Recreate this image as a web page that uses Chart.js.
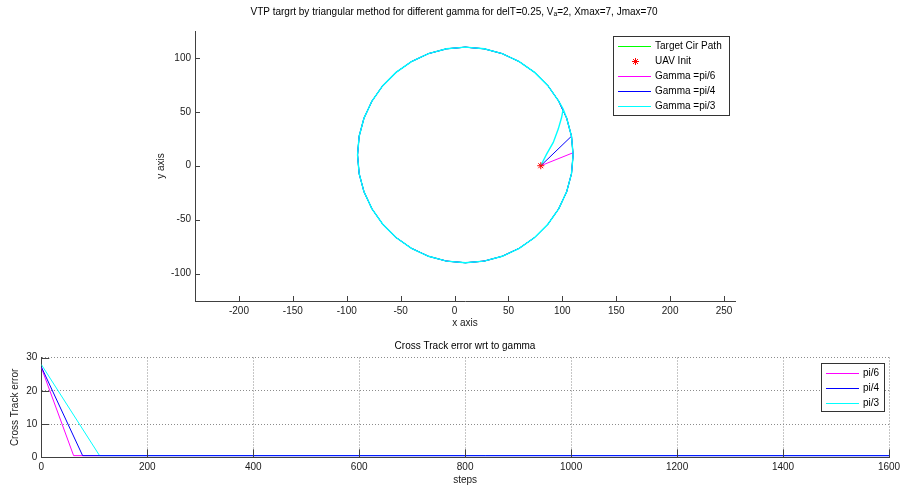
<!DOCTYPE html>
<html>
<head>
<meta charset="utf-8">
<script src="https://cdn.jsdelivr.net/npm/chart.js@4.4.1/dist/chart.umd.min.js"></script>
<style>
  html, body { margin: 0; padding: 0; background: #fff; overflow: hidden; width: 904px; height: 492px; }
  #top { position: absolute; left: 0; top: 0; }
  #bottom { position: absolute; left: 0; top: 335px; }
</style>
</head>
<body>
<canvas id="top" width="908" height="335"></canvas>
<canvas id="bottom" width="930" height="157"></canvas>
<script>
// target circle (centre about (10,10), radius about 100)
const circleX = [110, 108.5, 104.0, 96.6, 86.6, 74.3, 60, 44.2, 27.4, 10, -7.4, -24.2, -40, -54.3, -66.6, -76.6, -84.0, -88.5,
                 -90, -88.5, -84.0, -76.6, -66.6, -54.3, -40, -24.2, -7.4, 10, 27.4, 44.2, 60, 74.3, 86.6, 96.6, 104.0, 108.5, 110];
const circleY = [10, 27.4, 44.2, 60, 74.3, 86.6, 96.6, 104.0, 108.5, 110, 108.5, 104.0, 96.6, 86.6, 74.3, 60, 44.2, 27.4,
                 10, -7.4, -24.2, -40, -54.3, -66.6, -76.6, -84.0, -88.5, -90, -88.5, -84.0, -76.6, -66.6, -54.3, -40, -24.2, -7.4, 10];

const uavX = [80];
const uavY = [0];

// approach legs from UAV init to the circle
const pi6X = [80, 109.9];
const pi6Y = [0, 12];
const pi4X = [80, 108.5];
const pi4Y = [0, 27.4];
const pi3X = [80, 85.4, 91.6, 96.2, 99.3, 100.8];
const pi3Y = [0, 10.8, 21.6, 34, 44.7, 52.5];
// first circle point reached after each approach leg
const joinPi6 = 1, joinPi4 = 2, joinPi3 = 3;

const xTicksTop = [-200, -150, -100, -50, 0, 50, 100, 150, 200, 250];
const yTicksTop = [-100, -50, 0, 50, 100];

// cross track error vs steps
const stepsPi6 = [0, 61, 1600];
const errPi6 = [27.0, 0.5, 0.5];
const stepsPi4 = [0, 78, 1600];
const errPi4 = [27.2, 0.5, 0.5];
const stepsPi3 = [0, 110, 1600];
const errPi3 = [27.9, 0.5, 0.5];

const xTicksBottom = [0, 200, 400, 600, 800, 1000, 1200, 1400, 1600];
const yTicksBottom = [0, 10, 20, 30];

const axisColor = '#404040';
const textColor = '#1a1a1a';
Chart.defaults.font.family = '"Liberation Sans", Arial, "DejaVu Sans", sans-serif';
Chart.defaults.font.size = 10;
Chart.defaults.color = textColor;

function pts(xs, ys) {
  return xs.map((x, i) => ({x: x, y: ys[i]}));
}

// approach leg, then one lap of the circle back to the join point
function withLap(xs, ys, k) {
  const p = pts(xs, ys);
  const n = circleX.length - 1;
  for (let j = 0; j < n; j++) {
    const i = (k + j - 1) % n + 1;
    p.push({x: circleX[i], y: circleY[i]});
  }
  p.push({x: xs[xs.length - 1], y: ys[ys.length - 1]});
  return p;
}

function fixedTicks(arr) {
  return s => { s.ticks = arr.map(v => ({value: v})); };
}

// MATLAB style tick marks pointing into the plot
const inTicks = {
  id: 'inTicks',
  afterDatasetsDraw(chart, args, opts) {
    const {ctx, chartArea: a, scales} = chart;
    ctx.save();
    ctx.strokeStyle = axisColor;
    ctx.lineWidth = 1;
    ctx.beginPath();
    scales.x.ticks.forEach(t => {
      const px = Math.round(scales.x.getPixelForValue(t.value)) + 0.5;
      ctx.moveTo(px, a.bottom);
      ctx.lineTo(px, a.bottom - opts.length);
    });
    scales.y.ticks.forEach(t => {
      const py = Math.round(scales.y.getPixelForValue(t.value)) + 0.5;
      ctx.moveTo(a.left, py);
      ctx.lineTo(a.left + opts.length, py);
    });
    ctx.stroke();
    ctx.restore();
  }
};

function drawStar(ctx, x, y, r) {
  ctx.beginPath();
  ctx.moveTo(x - r, y); ctx.lineTo(x + r, y);
  ctx.moveTo(x, y - r); ctx.lineTo(x, y + r);
  const d = r * 0.7071;
  ctx.moveTo(x - d, y - d); ctx.lineTo(x + d, y + d);
  ctx.moveTo(x - d, y + d); ctx.lineTo(x + d, y - d);
  ctx.stroke();
}

// boxed legend inside the top right corner of the plot
const boxLegend = {
  id: 'boxLegend',
  afterDraw(chart, args, opts) {
    const {ctx, chartArea} = chart;
    const items = chart.data.datasets.filter(d => d.label);
    const h = items.length * opts.rowHeight + 4;
    const left = Math.round(chartArea.right - opts.right - opts.width);
    const top = Math.round(chartArea.top + opts.top);
    ctx.save();
    ctx.fillStyle = '#fff';
    ctx.fillRect(left, top, opts.width, h);
    ctx.strokeStyle = '#333';
    ctx.lineWidth = 1;
    ctx.strokeRect(left + 0.5, top + 0.5, opts.width - 1, h - 1);
    ctx.font = '10px "Liberation Sans", Arial, sans-serif';
    ctx.textBaseline = 'middle';
    items.forEach((d, i) => {
      const y = Math.round(top + 2 + opts.rowHeight / 2 + i * opts.rowHeight) + 0.5;
      ctx.strokeStyle = d.borderColor;
      ctx.lineWidth = 1;
      if (d.showLine === false) {
        drawStar(ctx, left + 22.5, y, 3.5);
      } else {
        ctx.beginPath();
        ctx.moveTo(left + 5, y);
        ctx.lineTo(left + 38, y);
        ctx.stroke();
      }
      ctx.fillStyle = '#000';
      ctx.fillText(d.label, left + 42, y);
    });
    ctx.restore();
  }
};

function lineSet(label, color, data, order, width) {
  return {label: label, data: data, borderColor: color, backgroundColor: color, showLine: true,
          borderWidth: width || 1, pointRadius: 0, tension: 0, order: order};
}

new Chart(document.getElementById('top'), {
  type: 'scatter',
  data: {
    datasets: [
      lineSet('Target Cir Path', '#00ff00', pts(circleX, circleY), 4),
      {label: 'UAV Init', data: pts(uavX, uavY), showLine: false, pointStyle: 'star', pointRadius: 3.5,
       borderColor: '#ff0000', backgroundColor: '#ff0000', borderWidth: 1, order: 0},
      lineSet('Gamma =pi/6', '#ff00ff', withLap(pi6X, pi6Y, joinPi6), 3),
      lineSet('Gamma =pi/4', '#0000ff', withLap(pi4X, pi4Y, joinPi4), 2),
      lineSet('Gamma =pi/3', '#00ffff', withLap(pi3X, pi3Y, joinPi3), 1, 1.4)
    ]
  },
  options: {
    responsive: false,
    animation: false,
    events: [],
    layout: {padding: 0},
    plugins: {
      legend: {display: false},
      tooltip: {enabled: false},
      title: {
        display: true,
        text: 'VTP targrt by triangular method for different gamma for delT=0.25, V\u2090=2, Xmax=7, Jmax=70',
        color: '#000',
        font: {size: 10, weight: 'normal'},
        padding: {top: 6.5, bottom: 12.5}
      },
      inTicks: {length: 5},
      boxLegend: {right: 5, top: 5, width: 117, rowHeight: 15.2}
    },
    scales: {
      x: {
        type: 'linear', position: 'bottom', min: -240.8, max: 260.2,
        afterBuildTicks: fixedTicks(xTicksTop),
        afterFit: s => { s.height = 34; },
        grid: {display: false, drawTicks: false},
        border: {display: true, color: axisColor, width: 1},
        ticks: {padding: 4, autoSkip: false, maxRotation: 0, color: textColor, callback: v => String(v)},
        title: {display: true, text: 'x axis', color: textColor, padding: {top: 0, bottom: 5.7}}
      },
      y: {
        type: 'linear', position: 'left', min: -125.5, max: 125,
        afterBuildTicks: fixedTicks(yTicksTop),
        afterFit: s => { s.width = 195; },
        grid: {display: false, drawTicks: false},
        border: {display: true, color: axisColor, width: 1},
        ticks: {padding: 4, autoSkip: false, color: textColor, callback: v => String(v)},
        title: {display: true, text: 'y axis', color: textColor, padding: {top: 155, bottom: 0}}
      },
      yR: {
        type: 'linear', position: 'right', display: true,
        afterFit: s => { s.width = 173; },
        grid: {display: false, drawTicks: false},
        border: {display: false},
        ticks: {display: false}
      }
    }
  },
  plugins: [inTicks, boxLegend]
});

new Chart(document.getElementById('bottom'), {
  type: 'scatter',
  data: {
    datasets: [
      lineSet('pi/6', '#ff00ff', pts(stepsPi6, errPi6), 2),
      lineSet('pi/4', '#0000ff', pts(stepsPi4, errPi4), 0),
      lineSet('pi/3', '#00ffff', pts(stepsPi3, errPi3), 1)
    ]
  },
  options: {
    responsive: false,
    animation: false,
    events: [],
    layout: {padding: 0},
    plugins: {
      legend: {display: false},
      tooltip: {enabled: false},
      title: {
        display: true,
        text: 'Cross Track error wrt to gamma',
        color: '#000',
        font: {size: 10, weight: 'normal'},
        padding: {top: 5, bottom: 5.5}
      },
      inTicks: {length: 8},
      boxLegend: {right: 4, top: 5.5, width: 64, rowHeight: 15}
    },
    scales: {
      x: {
        type: 'linear', position: 'bottom', min: 0, max: 1600,
        afterBuildTicks: fixedTicks(xTicksBottom),
        afterFit: s => { s.height = 34.7; },
        grid: {display: true, drawTicks: false, color: '#8c8c8c', lineWidth: 1},
        border: {display: true, color: axisColor, width: 1, dash: [1, 2]},
        ticks: {padding: 4, autoSkip: false, maxRotation: 0, color: textColor, callback: v => String(v)},
        title: {display: true, text: 'steps', color: textColor, padding: {top: 0, bottom: 6}}
      },
      y: {
        type: 'linear', position: 'left', min: 0, max: 30,
        afterBuildTicks: fixedTicks(yTicksBottom),
        afterFit: s => { s.width = 41.3; },
        grid: {display: true, drawTicks: false, color: '#8c8c8c', lineWidth: 1},
        border: {display: true, color: axisColor, width: 1, dash: [1, 2]},
        ticks: {padding: 4, autoSkip: false, color: textColor, callback: v => String(v)},
        title: {display: true, text: 'Cross Track error', color: textColor, padding: {top: 9.7, bottom: 0}}
      },
      yR: {
        type: 'linear', position: 'right', display: true,
        afterFit: s => { s.width = 41; },
        grid: {display: false, drawTicks: false},
        border: {display: false},
        ticks: {display: false}
      }
    }
  },
  plugins: [inTicks, boxLegend]
});
</script>
</body>
</html>
